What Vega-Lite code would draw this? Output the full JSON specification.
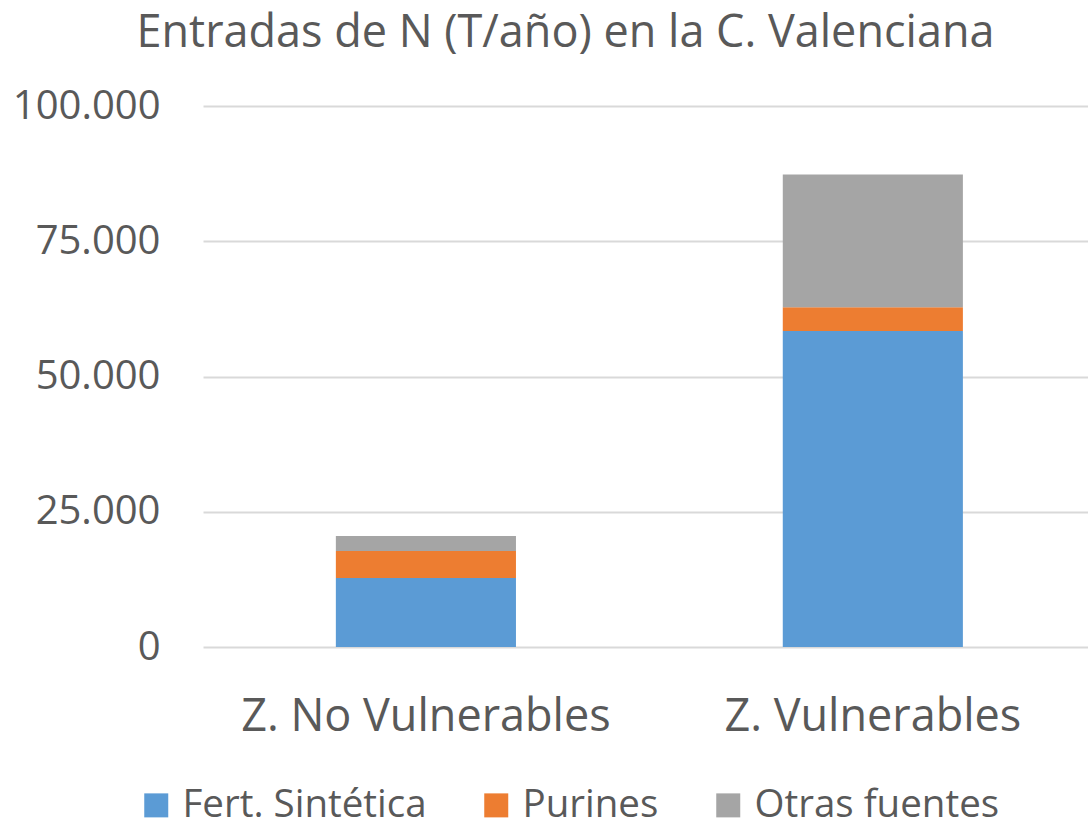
{
  "$schema": "https://vega.github.io/schema/vega-lite/v6.json",
  "autosize": {"type": "none"},
  "width": 885,
  "height": 541,
  "padding": {"left": 203, "top": 106, "right": 0, "bottom": 180},
  "background": "white",
  "title": {
    "text": "Entradas de N (T/año) en la C. Valenciana",
    "font": "Open Sans",
    "fontSize": 45,
    "fontWeight": "normal",
    "color": "#595959",
    "anchor": "middle",
    "frame": "group",
    "offset": 30,
    "dx": -80
  },
  "data": {
    "values": [
      {"zona": "Z. No Vulnerables", "fuente": "Fert. Sintética", "k": 1, "valor": 12750},
      {"zona": "Z. No Vulnerables", "fuente": "Purines", "k": 2, "valor": 4990},
      {"zona": "Z. No Vulnerables", "fuente": "Otras fuentes", "k": 3, "valor": 2770},
      {"zona": "Z. Vulnerables", "fuente": "Fert. Sintética", "k": 1, "valor": 58400},
      {"zona": "Z. Vulnerables", "fuente": "Purines", "k": 2, "valor": 4380},
      {"zona": "Z. Vulnerables", "fuente": "Otras fuentes", "k": 3, "valor": 24580}
    ]
  },
  "mark": {"type": "bar"},
  "encoding": {
    "x": {
      "field": "zona",
      "type": "nominal",
      "sort": null,
      "scale": {"paddingInner": 0.597, "paddingOuter": 0.2886, "align": 0.515},
      "axis": {
        "title": null,
        "labelAngle": 0,
        "ticks": false,
        "domain": false,
        "labelFont": "Open Sans",
        "labelFontSize": 45,
        "labelLimit": 600,
        "labelColor": "#595959",
        "labelPadding": 47
      }
    },
    "y": {
      "field": "valor",
      "type": "quantitative",
      "stack": "zero",
      "scale": {"domain": [0, 100000], "nice": false},
      "axis": {
        "title": null,
        "values": [0, 25000, 50000, 75000, 100000],
        "labelExpr": "replace(format(datum.value, ','), ',', '.')",
        "domain": false,
        "ticks": false,
        "labelFont": "Open Sans",
        "labelFontSize": 40,
        "labelColor": "#595959",
        "labelPadding": 43,
        "gridColor": "#D9D9D9",
        "gridWidth": 2
      }
    },
    "color": {
      "field": "fuente",
      "type": "nominal",
      "scale": {
        "domain": ["Fert. Sintética", "Purines", "Otras fuentes"],
        "range": ["#5B9BD5", "#ED7D31", "#A5A5A5"]
      },
      "legend": {
        "title": null,
        "orient": "none",
        "direction": "horizontal",
        "legendX": -66,
        "legendY": 680,
        "padding": 0,
        "symbolType": "square",
        "symbolSize": 576,
        "symbolStrokeWidth": 0,
        "labelFont": "Open Sans",
        "labelFontSize": 38.5,
        "labelLimit": 400,
        "labelColor": "#595959",
        "labelOffset": 7,
        "columnPadding": 50
      }
    },
    "order": {"field": "k", "type": "quantitative"}
  },
  "config": {
    "view": {"stroke": null}
  }
}
